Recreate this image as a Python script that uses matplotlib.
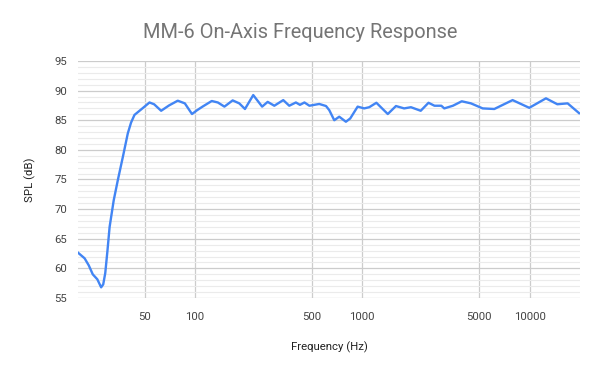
import matplotlib.pyplot as plt
from matplotlib.ticker import FixedLocator, MultipleLocator, NullFormatter
import numpy as np

plt.rcParams['font.family'] = ['Roboto', 'DejaVu Sans']

# Frequency (Hz) and SPL (dB)
freq = [20, 21.9, 23.2, 24.5, 26.1, 27.5, 28.3, 29.1, 30.0, 30.9, 32.7, 34.6, 37.1, 39.7,
        41.5, 43.5, 47.8, 53.5, 57, 62.8, 70, 78.9, 87, 96, 103, 111, 126, 137, 150, 168,
        184, 199, 223, 252, 272, 298, 337, 366, 401, 424, 451, 483, 553, 607, 635, 680,
        728, 798, 847, 938, 1026, 1100, 1214, 1420, 1589, 1778, 1953, 2234,
        2487, 2700, 2967, 3090, 3480, 3930, 4460, 5240, 6150, 7910, 9950,
        12520, 14640, 16870, 19750]
spl = [62.65, 61.7, 60.5, 59.0, 58.15, 56.8, 57.3, 59.2, 63.0, 67.0, 71.5, 74.9, 78.85, 82.8,
       84.6, 85.9, 86.85, 88.0, 87.7, 86.6, 87.5, 88.3, 87.85, 86.05, 86.7, 87.3, 88.25, 88.0, 87.3, 88.35,
       87.85, 86.9, 89.25, 87.3, 88.1, 87.45, 88.4, 87.45, 88.0, 87.6, 88.0, 87.45, 87.75, 87.4, 86.7, 85.0,
       85.6, 84.75, 85.3, 87.3, 87.0, 87.2, 87.95, 86.05, 87.4, 87.0, 87.2, 86.6,
       87.95, 87.45, 87.45, 87.0, 87.45, 88.2, 87.85, 87.0, 86.9, 88.4, 87.1,
       88.7, 87.7, 87.85, 86.2]

x_ticks = [50, 100, 500, 1000, 5000, 10000]

fig = plt.figure(figsize=(6, 3.71), dpi=100)
ax = fig.add_axes([78 / 600, 1 - 298 / 371, 502 / 600, 237 / 371])

ax.plot(freq, spl, color='#4285f4', lw=1.7, solid_joinstyle='round')

ax.set_xscale('log')
ax.set_xlim(20, 20000)
ax.set_ylim(55, 95)
ax.xaxis.set_major_locator(FixedLocator(x_ticks))
ax.xaxis.set_major_formatter(plt.FixedFormatter([str(t) for t in x_ticks]))
ax.xaxis.set_minor_locator(FixedLocator([]))
ax.xaxis.set_minor_formatter(NullFormatter())
ax.yaxis.set_major_locator(MultipleLocator(5))
ax.yaxis.set_minor_locator(MultipleLocator(1))

ax.grid(which='major', color='#cccccc', lw=0.9)
ax.grid(which='minor', axis='y', color='#ebebeb', lw=0.8)
ax.set_axisbelow(True)
for s in ax.spines.values():
    s.set_visible(False)
ax.tick_params(which='both', length=0, labelsize=8.2, labelcolor='#444444')
ax.tick_params(axis='x', pad=10)
ax.tick_params(axis='y', pad=8)

ax.set_xlabel('Frequency (Hz)', fontsize=8.2, color='#222222', labelpad=14)
ax.set_ylabel('SPL (dB)', fontsize=8.2, color='#222222', labelpad=13)
fig.text(0.5, 1 - 32 / 371, 'MM-6 On-Axis Frequency Response', ha='center', va='center',
         fontsize=14.4, color='#757575')

fig.savefig('out.png', dpi=100)
